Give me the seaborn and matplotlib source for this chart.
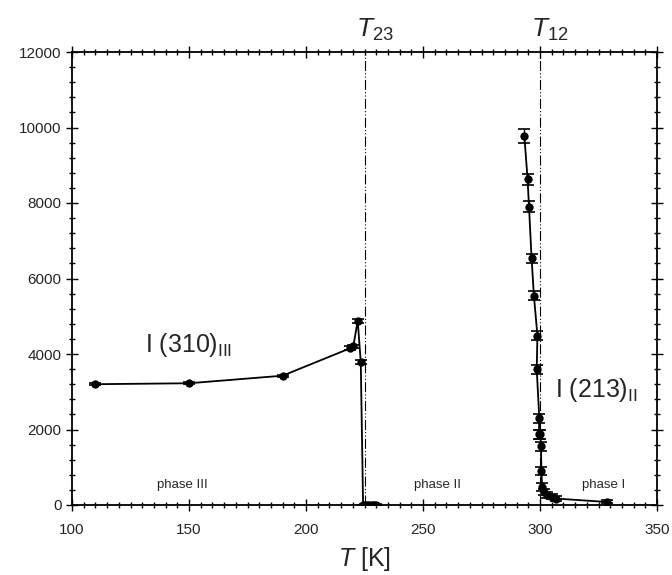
import matplotlib
matplotlib.use("Agg")
import matplotlib.pyplot as plt
import seaborn as sns
import pandas as pd
from matplotlib.ticker import MultipleLocator

# --- data -------------------------------------------------------------
t_310 = [110, 150, 190, 218.8, 220.2, 222.1, 223.4, 224.4, 225.0, 226.0, 227.0, 228.0, 229.0, 230.0]
i_310 = [3200, 3225, 3425, 4150, 4200, 4880, 3790, 0, 10, 10, 10, 10, 10, 10]
e_310 = [30, 30, 30, 50, 50, 50, 50, 0, 20, 20, 20, 20, 20, 20]

t_213 = [293.3, 294.7, 295.3, 296.4, 297.4, 298.9, 298.6, 299.7, 299.5, 300.2, 300.4, 300.6, 300.9, 301.6, 303.0, 305.0, 307.0, 328.5]
i_213 = [9780, 8630, 7900, 6540, 5540, 4490, 3600, 2300, 1880, 1880, 1550, 900, 480, 350, 260, 220, 170, 80]
e_213 = [180, 150, 150, 120, 120, 120, 120, 120, 120, 120, 120, 100, 100, 80, 80, 60, 60, 40]

t_trans = [225, 300]
trans_labels = ["23", "12"]
phase_x = [147, 256, 327]
phase_labels = ["phase III", "phase II", "phase I"]

x_ticks = [100, 150, 200, 250, 300, 350]
y_ticks = [0, 2000, 4000, 6000, 8000, 10000, 12000]

# --- style ------------------------------------------------------------
sns.set_style("ticks")
plt.rcParams["font.family"] = ["Liberation Sans", "DejaVu Sans"]
plt.rcParams["mathtext.fontset"] = "custom"
plt.rcParams["mathtext.rm"] = "Liberation Sans"
plt.rcParams["mathtext.it"] = "Liberation Sans:italic"

fig = plt.figure(figsize=(6.72, 5.75), dpi=100)
ax = fig.add_axes([72 / 672, 1 - 505 / 575, (657 - 72) / 672, (505 - 52) / 575])

df1 = pd.DataFrame({"T": t_310, "I": i_310})
df2 = pd.DataFrame({"T": t_213, "I": i_213})

for df, err in ((df1, e_310), (df2, e_213)):
    ax.errorbar(df["T"], df["I"], yerr=err, fmt="none", ecolor="black",
                elinewidth=1.0, capsize=4, capthick=1.2, zorder=3)
    sns.lineplot(data=df, x="T", y="I", sort=False, estimator=None, ax=ax,
                 color="black", lw=1.3, marker="o", markersize=6,
                 markeredgewidth=0, zorder=4)

for tx, lab in zip(t_trans, trans_labels):
    ax.axvline(tx, color="black", lw=0.8, ls=(0, (9, 2, 1, 2, 1, 2)), zorder=2)
    ax.text(tx - 3.8, 12250, r"$T_{%s}$" % lab, fontsize=19, ha="left", va="bottom",
            clip_on=False)

for px, lab in zip(phase_x, phase_labels):
    ax.text(px, 520, lab, fontsize=9.5, ha="center", va="center")

ax.text(131, 4050, r"I (310)$_{\mathrm{III}}$", fontsize=18, ha="left", va="baseline")
ax.text(306.5, 2850, r"I (213)$_{\mathrm{II}}$", fontsize=18, ha="left", va="baseline")

ax.set_xlim(100, 350)
ax.set_ylim(0, 12000)
ax.set_xticks(x_ticks)
ax.set_yticks(y_ticks)
ax.xaxis.set_minor_locator(MultipleLocator(5))
ax.yaxis.set_minor_locator(MultipleLocator(400))
ax.tick_params(which="both", direction="inout", top=True, right=True,
               color="black", width=1.0)
ax.tick_params(which="major", length=8, labelsize=11)
ax.tick_params(which="minor", length=4)
ax.tick_params(axis="x", which="major", pad=9)
for s in ax.spines.values():
    s.set_visible(True)
    s.set_linewidth(1.3)
    s.set_color("black")

ax.set_xlabel(r"$T$ [K]", fontsize=18, labelpad=6)
ax.set_ylabel("")

fig.savefig("out.png", dpi=100)
